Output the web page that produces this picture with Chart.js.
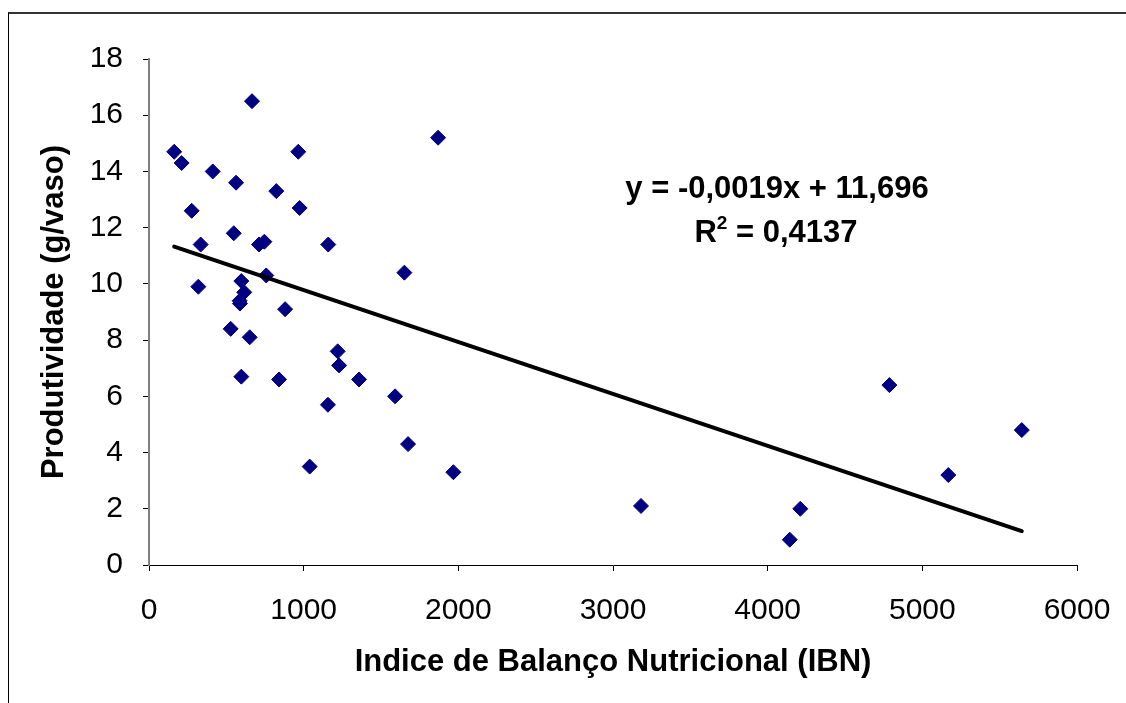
<!DOCTYPE html>
<html>
<head>
<meta charset="utf-8">
<title>Produtividade x IBN</title>
<script src="https://cdn.jsdelivr.net/npm/chart.js@4/dist/chart.umd.min.js"></script>
<style>
  html, body { margin: 0; padding: 0; background: #fff; overflow: hidden; }
  #wrap { position: relative; width: 1126px; height: 703px; }
  #frame {
    position: absolute; left: 8px; top: 12px; width: 1200px; height: 800px;
    border-left: 1px solid #000; border-top: 2px solid #333; pointer-events: none;
  }
  canvas { position: absolute; left: 0; top: 0; }
</style>
</head>
<body>
<div id="wrap">
  <canvas id="ibnChart" width="1126" height="703"></canvas>
  <div id="frame"></div>
</div>
<script>
// IBN (x) e produtividade em g/vaso (y)
var ibn = [163, 211, 276, 412, 563, 666, 965, 823, 974, 1869,
           548, 334, 711, 746, 1159, 1651, 758, 319, 597, 616,
           586, 588, 880, 528, 651, 1220, 1229, 597, 841, 1358,
           1591, 1157, 1675, 1039, 1968, 3181, 4211, 4143, 4787, 5168, 5643];
var produtividade = [14.7, 14.3, 12.6, 14.0, 13.6, 16.5, 14.7, 13.3, 12.7, 15.2,
           11.8, 11.4, 11.4, 11.5, 11.4, 10.4, 10.3, 9.9, 10.1, 9.7,
           9.4, 9.3, 9.1, 8.4, 8.1, 7.6, 7.1, 6.7, 6.6, 6.6,
           6.0, 5.7, 4.3, 3.5, 3.3, 2.1, 2.0, 0.9, 6.4, 3.2, 4.8];

var eixoX = { min: 0, max: 6000, passo: 1000 };
var eixoY = { min: 0, max: 18, passo: 2 };
var tituloX = "Indice de Balanço Nutricional (IBN)";
var tituloY = "Produtividade (g/vaso)";
var equacao = "y = -0,0019x + 11,696";
var r2 = "0,4137";

var fonte = "'Liberation Sans', Arial, Helvetica, sans-serif";

// linha de tendência linear (mínimos quadrados)
function tendencia(xs, ys){
	var n = xs.length, sx = 0, sy = 0, sxx = 0, sxy = 0;
	for (var i = 0; i < n; i++){
		sx += xs[i]; sy += ys[i]; sxx += xs[i]*xs[i]; sxy += xs[i]*ys[i];
	}
	var b = (n*sxy - sx*sy) / (n*sxx - sx*sx);
	var a = (sy - b*sx) / n;
	var x0 = Math.min.apply(null, xs), x1 = Math.max.apply(null, xs);
	return [{x: x0, y: a + b*x0}, {x: x1, y: a + b*x1}];
}

var pontos = ibn.map(function(v, i){ return {x: v, y: produtividade[i]}; });

// texto da equação e R²
var rotuloEquacao = {
	id: "rotuloEquacao",
	afterDatasetsDraw: function(chart){
		var ctx = chart.ctx;
		ctx.save();
		ctx.fillStyle = "#000";
		ctx.textBaseline = "alphabetic";
		ctx.font = "bold 31px " + fonte;
		ctx.textAlign = "center";
		ctx.fillText(equacao, 777, 198);
		// R² com expoente menor
		var wR = ctx.measureText("R").width;
		var resto = " = " + r2;
		var wResto = ctx.measureText(resto).width;
		ctx.font = "bold 19px " + fonte;
		var wSup = ctx.measureText("2").width;
		var x0 = 776 - (wR + wSup + wResto) / 2;
		ctx.textAlign = "left";
		ctx.font = "bold 31px " + fonte;
		ctx.fillText("R", x0, 242);
		ctx.font = "bold 19px " + fonte;
		ctx.fillText("2", x0 + wR, 229);
		ctx.font = "bold 31px " + fonte;
		ctx.fillText(resto, x0 + wR + wSup, 242);
		ctx.restore();
	}
};

function renderChart(){
	var ctx = document.querySelector("#ibnChart").getContext("2d");
	new Chart(ctx, {
		type: "scatter",
		data: {
			datasets: [{
				label: "Produtividade",
				data: pontos,
				pointStyle: "rectRot",
				pointRadius: 7.5,
				pointHoverRadius: 7.5,
				backgroundColor: "#000080",
				borderColor: "#000080",
				borderWidth: 1,
				order: 1
			}, {
				type: "line",
				label: "Linear",
				data: tendencia(ibn, produtividade),
				borderColor: "#000",
				borderWidth: 4,
				pointRadius: 0,
				borderCapStyle: "round",
				fill: false,
				order: 0
			}]
		},
		options: {
			responsive: false,
			devicePixelRatio: 1,
			animation: false,
			events: [],
			layout: { padding: { left: 0, top: 59, right: 49, bottom: 0 } },
			plugins: { legend: { display: false }, tooltip: { enabled: false } },
			scales: {
				x: {
					type: "linear",
					min: eixoX.min, max: eixoX.max,
					afterFit: function(s){ s.height = 138; s.paddingLeft = 0; s.paddingRight = 0; },
					ticks: { stepSize: eixoX.passo, color: "#000", padding: 22,
						font: { family: fonte, size: 30 }, maxRotation: 0,
						callback: function(v){ return String(v); } },
					grid: { drawOnChartArea: false, drawTicks: true, tickLength: 6, color: "#000" },
					border: { color: "#000", width: 1 },
					title: { display: true, text: tituloX, color: "#000",
						font: { family: fonte, size: 31, weight: "bold" }, padding: { bottom: 22 } }
				},
				y: {
					min: eixoY.min, max: eixoY.max,
					afterFit: function(s){ s.width = 149; s.paddingTop = 0; s.paddingBottom = 0; },
					ticks: { stepSize: eixoY.passo, color: "#000", padding: 20,
						font: { family: fonte, size: 30 } },
					grid: { drawOnChartArea: false, drawTicks: true, tickLength: 6, color: "#000" },
					border: { color: "#808080", width: 2 },
					title: { display: true, text: tituloY, color: "#000",
						font: { family: fonte, size: 31, weight: "bold" }, padding: { top: 36 } }
				}
			}
		},
		plugins: [rotuloEquacao]
	});
}

renderChart();
</script>
</body>
</html>
